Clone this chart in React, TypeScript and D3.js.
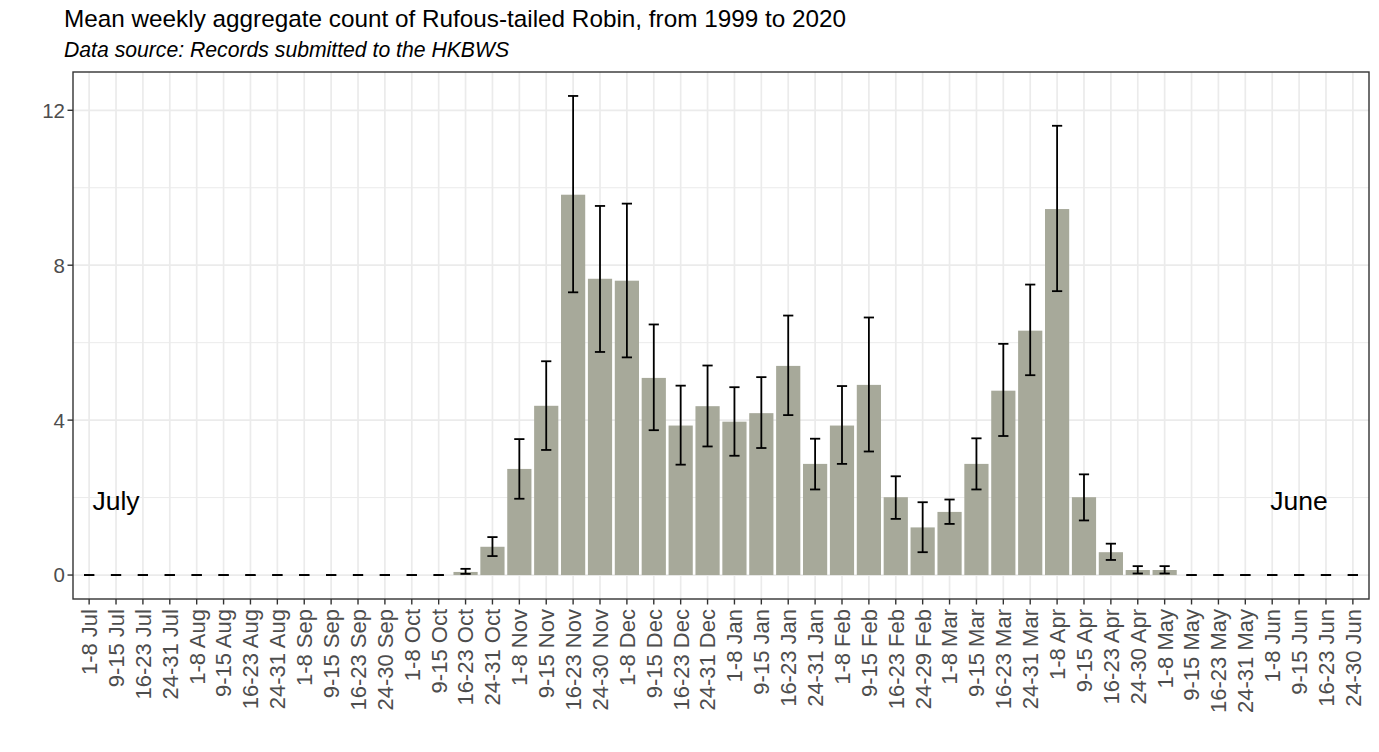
import React from "react";
import * as d3 from "d3";

// weekly bins, July to June
const weeks = [
  "1-8 Jul", "9-15 Jul", "16-23 Jul", "24-31 Jul",
  "1-8 Aug", "9-15 Aug", "16-23 Aug", "24-31 Aug",
  "1-8 Sep", "9-15 Sep", "16-23 Sep", "24-30 Sep",
  "1-8 Oct", "9-15 Oct", "16-23 Oct", "24-31 Oct",
  "1-8 Nov", "9-15 Nov", "16-23 Nov", "24-30 Nov",
  "1-8 Dec", "9-15 Dec", "16-23 Dec", "24-31 Dec",
  "1-8 Jan", "9-15 Jan", "16-23 Jan", "24-31 Jan",
  "1-8 Feb", "9-15 Feb", "16-23 Feb", "24-29 Feb",
  "1-8 Mar", "9-15 Mar", "16-23 Mar", "24-31 Mar",
  "1-8 Apr", "9-15 Apr", "16-23 Apr", "24-30 Apr",
  "1-8 May", "9-15 May", "16-23 May", "24-31 May",
  "1-8 Jun", "9-15 Jun", "16-23 Jun", "24-30 Jun",
];

const means = [
  0, 0, 0, 0,
  0, 0, 0, 0,
  0, 0, 0, 0,
  0, 0, 0.08, 0.73,
  2.74, 4.37, 9.82, 7.65,
  7.6, 5.09, 3.86, 4.36,
  3.96, 4.18, 5.4, 2.87,
  3.86, 4.91, 2.01, 1.23,
  1.63, 2.87, 4.76, 6.31,
  9.45, 2.01, 0.59, 0.13,
  0.13, 0, 0, 0,
  0, 0, 0, 0,
];

const lower = [
  0, 0, 0, 0,
  0, 0, 0, 0,
  0, 0, 0, 0,
  0, 0, 0.03, 0.49,
  1.97, 3.23, 7.3, 5.76,
  5.62, 3.74, 2.85, 3.32,
  3.08, 3.28, 4.13, 2.21,
  2.87, 3.19, 1.45, 0.59,
  1.32, 2.21, 3.59, 5.16,
  7.33, 1.41, 0.39, 0.04,
  0.04, 0, 0, 0,
  0, 0, 0, 0,
];

const upper = [
  0, 0, 0, 0,
  0, 0, 0, 0,
  0, 0, 0, 0,
  0, 0, 0.16, 0.98,
  3.51, 5.52, 12.37, 9.53,
  9.59, 6.47, 4.89, 5.41,
  4.85, 5.11, 6.7, 3.52,
  4.88, 6.65, 2.55, 1.88,
  1.95, 3.53, 5.97, 7.5,
  11.6, 2.6, 0.81, 0.23,
  0.23, 0, 0, 0,
  0, 0, 0, 0,
];

const yTicks = [0, 4, 8, 12];
const yMinor = [2, 6, 10];

const seasonLabels = [
  { week: "9-15 Jul", value: 2, text: "July" },
  { week: "9-15 Jun", value: 2, text: "June" },
];

const W = 1379;
const H = 752;
const panel = { left: 73, right: 1369, top: 72, bottom: 599 };
const font = "'Liberation Sans', Arial, Helvetica, sans-serif";

export default function App() {
  React.useEffect(() => {
    document.body.style.margin = "0";
    document.body.style.overflow = "hidden";
  }, []);

  const x = d3
    .scalePoint<string>()
    .domain(weeks)
    .range([panel.left, panel.right])
    .padding(0.6);
  const step = x.step();
  const barW = step * 0.9;
  const capW = step * 0.38;

  // ggplot-style 5% expansion of the data range
  const yMax = d3.max(upper) ?? 0;
  const pad = yMax * 0.05;
  const y = d3
    .scaleLinear()
    .domain([-pad, yMax + pad])
    .range([panel.bottom, panel.top]);

  return (
    <svg width={W} height={H} style={{ display: "block", background: "#fff" }} fontFamily={font}>
      <text x={64} y={27} fontSize={24.3} fill="#000">
        Mean weekly aggregate count of Rufous-tailed Robin, from 1999 to 2020
      </text>
      <text x={64} y={57} fontSize={21.2} fontStyle="italic" fill="#000">
        Data source: Records submitted to the HKBWS
      </text>

      <rect
        x={panel.left}
        y={panel.top}
        width={panel.right - panel.left}
        height={panel.bottom - panel.top}
        fill="#fff"
      />

      {/* grid */}
      {yMinor.map((t) => (
        <line key={"mn" + t} x1={panel.left} x2={panel.right} y1={y(t)} y2={y(t)} stroke="#ebebeb" strokeWidth={1} />
      ))}
      {yTicks.map((t) => (
        <line key={"mj" + t} x1={panel.left} x2={panel.right} y1={y(t)} y2={y(t)} stroke="#ebebeb" strokeWidth={1.7} />
      ))}
      {weeks.map((w) => (
        <line key={"vg" + w} x1={x(w)} x2={x(w)} y1={panel.top} y2={panel.bottom} stroke="#ebebeb" strokeWidth={1.7} />
      ))}

      {/* bars */}
      {weeks.map((w, i) => (
        <rect
          key={"b" + w}
          x={(x(w) ?? 0) - barW / 2}
          y={y(means[i])}
          width={barW}
          height={y(0) - y(means[i])}
          fill="#a7a99a"
        />
      ))}

      {/* error bars */}
      {weeks.map((w, i) => {
        const cx = x(w) ?? 0;
        return (
          <g key={"e" + w} stroke="#000" strokeWidth={1.8}>
            <line x1={cx} x2={cx} y1={y(lower[i])} y2={y(upper[i])} />
            <line x1={cx - capW / 2} x2={cx + capW / 2} y1={y(upper[i])} y2={y(upper[i])} />
            <line x1={cx - capW / 2} x2={cx + capW / 2} y1={y(lower[i])} y2={y(lower[i])} />
          </g>
        );
      })}

      {seasonLabels.map((s) => (
        <text
          key={s.text}
          x={x(s.week)}
          y={y(s.value) + 12}
          fontSize={26.5}
          textAnchor="middle"
          fill="#000"
        >
          {s.text}
        </text>
      ))}

      <rect
        x={panel.left}
        y={panel.top}
        width={panel.right - panel.left}
        height={panel.bottom - panel.top}
        fill="none"
        stroke="#333"
        strokeWidth={1.4}
      />

      {/* y axis */}
      {yTicks.map((t) => (
        <g key={"yt" + t}>
          <line x1={panel.left - 5.5} x2={panel.left} y1={y(t)} y2={y(t)} stroke="#333" strokeWidth={1.4} />
          <text
            x={panel.left - 8}
            y={y(t)}
            dy="0.36em"
            textAnchor="end"
            fontSize={20.5}
            fill="#4d4d4d"
          >
            {t}
          </text>
        </g>
      ))}

      {/* x axis */}
      {weeks.map((w) => {
        const cx = x(w) ?? 0;
        return (
          <g key={"xt" + w}>
            <line x1={cx} x2={cx} y1={panel.bottom} y2={panel.bottom + 5.5} stroke="#333" strokeWidth={1.4} />
            <text
              transform={`translate(${cx},${panel.bottom + 10}) rotate(-90)`}
              dy="0.36em"
              textAnchor="end"
              fontSize={22}
              fill="#4d4d4d"
            >
              {w}
            </text>
          </g>
        );
      })}
    </svg>
  );
}
